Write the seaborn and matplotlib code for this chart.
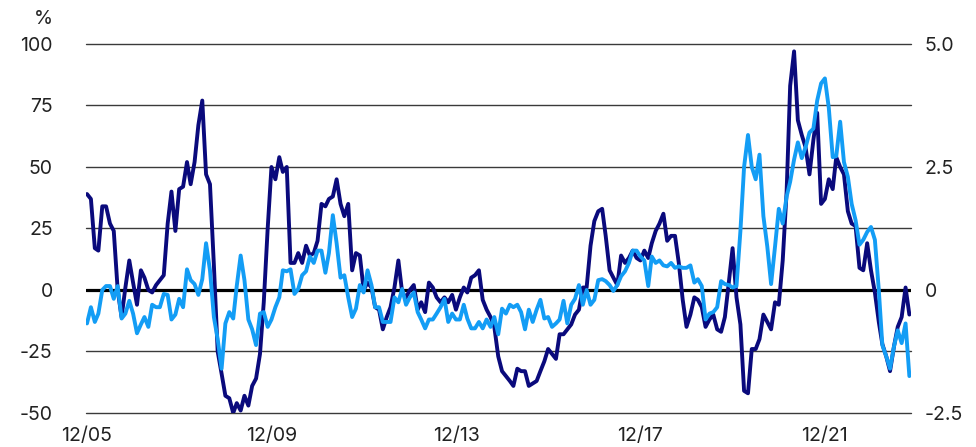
import numpy as np
import pandas as pd
import matplotlib.pyplot as plt
import seaborn as sns

# -----------------------------
# Data (monthly, 12/2005 - 10/2023)
# -----------------------------
# dark series, left axis (%)
left_vals = [
    39, 37, 17, 16, 34, 34, 27, 24, 0, -11,
    1, 12, 3, -6, 8, 5, 0, -1, 2, 4,
    6, 27, 40, 24, 41, 42, 52, 43, 52, 67,
    77, 47, 43, 10, -25, -34, -43, -44, -50, -46,
    -49, -43, -47, -39, -36, -26, -5, 25, 50, 45,
    54, 48, 50, 11, 11, 15, 11, 18, 14, 15,
    20, 35, 34, 37, 38, 45, 35, 30, 35, 8,
    15, 14, 0, 3, 1, -7, -8, -16, -11, -7,
    1, 12, -1, -3, 0, 2, -8, -5, -9, 3,
    1, -3, -5, -3, -5, -2, -8, -3, 1, -1,
    5, 6, 8, -4, -8, -11, -15, -27, -33, -35,
    -37, -39, -32, -33, -33, -39, -38, -37, -33, -29,
    -24, -26, -28, -18, -18, -16, -14, -10, -8, 1,
    1, 18, 28, 32, 33, 22, 8, 5, 2, 14,
    11, 13, 16, 13, 12, 16, 13, 19, 24, 27,
    31, 20, 22, 22, 11, -4, -15, -10, -3, -4,
    -7, -15, -12, -10, -16, -17, -11, 3, 17, -3,
    -14, -41, -42, -24, -24, -20, -10, -13, -16, -5,
    -6, 12, 40, 83, 97, 69, 63, 58, 47, 61,
    72, 35, 37, 45, 41, 54, 50, 47, 32, 27,
    26, 9, 8, 19, 8, -1, -13, -22, -27, -33,
    -23, -15, -11, 1, -10,
]

# light series, right axis
right_vals = [
    -0.68, -0.35, -0.65, -0.48, 0.00, 0.08, 0.08, -0.18, 0.08, -0.58,
    -0.48, -0.22, -0.48, -0.88, -0.70, -0.55, -0.75, -0.30, -0.35, -0.35,
    -0.08, -0.10, -0.60, -0.50, -0.18, -0.35, 0.42, 0.20, 0.12, -0.10,
    0.22, 0.95, 0.40, -0.55, -1.00, -1.60, -0.68, -0.45, -0.58, 0.08,
    0.70, 0.20, -0.60, -0.80, -1.12, -0.48, -0.45, -0.75, -0.60, -0.35,
    -0.15, 0.40, 0.38, 0.42, -0.08, 0.02, 0.30, 0.38, 0.68, 0.55,
    0.80, 0.80, 0.35, 0.75, 1.52, 0.95, 0.25, 0.30, -0.15, -0.55,
    -0.38, 0.10, -0.05, 0.40, 0.10, -0.35, -0.35, -0.65, -0.65, -0.65,
    -0.15, -0.25, 0.02, -0.30, -0.15, -0.05, -0.45, -0.60, -0.78, -0.60,
    -0.60, -0.48, -0.35, -0.18, -0.65, -0.48, -0.60, -0.60, -0.30, -0.58,
    -0.78, -0.78, -0.65, -0.78, -0.60, -0.75, -0.55, -0.90, -0.38, -0.48,
    -0.30, -0.35, -0.30, -0.45, -0.80, -0.40, -0.65, -0.40, -0.20, -0.58,
    -0.55, -0.75, -0.68, -0.60, -0.22, -0.68, -0.30, -0.18, 0.10, -0.30,
    0.00, -0.30, -0.20, 0.20, 0.22, 0.18, 0.10, -0.02, 0.10, 0.28,
    0.38, 0.55, 0.80, 0.80, 0.68, 0.60, 0.08, 0.68, 0.55, 0.60,
    0.50, 0.48, 0.55, 0.45, 0.48, 0.45, 0.45, 0.50, 0.15, 0.22,
    0.08, -0.60, -0.48, -0.45, -0.35, 0.18, 0.12, 0.10, 0.05, 0.08,
    1.20, 2.50, 3.15, 2.50, 2.25, 2.75, 1.50, 0.88, 0.12, 0.88,
    1.65, 1.35, 1.90, 2.20, 2.65, 3.00, 2.68, 2.90, 3.20, 3.28,
    3.85, 4.20, 4.30, 3.70, 2.70, 2.72, 3.42, 2.60, 2.30, 1.75,
    1.42, 0.92, 1.02, 1.18, 1.28, 1.02, 0.00, -1.12, -1.35, -1.60,
    -1.15, -0.82, -1.08, -0.68, -1.75,
]

months = pd.date_range("2005-12-01", periods=len(left_vals), freq="MS")

left_ticks = [-50, -25, 0, 25, 50, 75, 100]
left_labels = ["-50", "-25", "0", "25", "50", "75", "100"]
right_ticks = [-2.5, 0, 2.5, 5.0]
right_labels = ["-2.5", "0", "2.5", "5.0"]
x_ticks = pd.to_datetime(["2005-12-01", "2009-12-01", "2013-12-01",
                          "2017-12-01", "2021-12-01"])
x_labels = ["12/05", "12/09", "12/13", "12/17", "12/21"]

df = pd.DataFrame({"month": months, "left": left_vals, "right": right_vals})

# -----------------------------
# Style
# -----------------------------
sns.set_style("white")
plt.rcParams["font.family"] = ["Inter", "DejaVu Sans"]

DARK = "#0a0a7c"
LIGHT = "#139df5"
TEXT = "#222222"

fig = plt.figure(figsize=(9.76, 4.47), dpi=100)
ax = fig.add_axes([0.0881, 0.0761, 0.8453, 0.8255])
ax2 = ax.twinx()

# -----------------------------
# Plot
# -----------------------------
for t in left_ticks:
    if t == 0:
        continue
    ax.axhline(t, color="#3a3a3a", lw=1.0, zorder=1, clip_on=False)
ax.axhline(0, color="black", lw=2.3, zorder=1.5)

sns.lineplot(data=df, x="month", y="left", ax=ax, color=DARK,
             lw=2.8, zorder=2)
sns.lineplot(data=df, x="month", y="right", ax=ax2, color=LIGHT,
             lw=2.8, zorder=2)

ax.set_ylim(-50, 100)
ax2.set_ylim(-2.5, 5.0)
ax.set_xlim(pd.Timestamp("2005-11-23"), pd.Timestamp("2023-10-14"))

ax.set_yticks(left_ticks)
ax.set_yticklabels(left_labels)
ax2.set_yticks(right_ticks)
ax2.set_yticklabels(right_labels)
ax.set_xticks(x_ticks)
ax.set_xticklabels(x_labels)

ax.set_xlabel("")
ax.set_ylabel("")
ax2.set_ylabel("")

ax.tick_params(axis="y", length=0, pad=24, labelsize=14, labelcolor=TEXT)
ax2.tick_params(axis="y", length=0, pad=10, labelsize=14, labelcolor=TEXT)
ax.tick_params(axis="x", length=0, pad=10, labelsize=14, labelcolor=TEXT)

for a in (ax, ax2):
    for s in a.spines.values():
        s.set_visible(False)

fig.text(0.0543, 0.957, "%", ha="right", va="center", fontsize=14, color=TEXT)

plt.savefig("out.png", dpi=100)
plt.close()
